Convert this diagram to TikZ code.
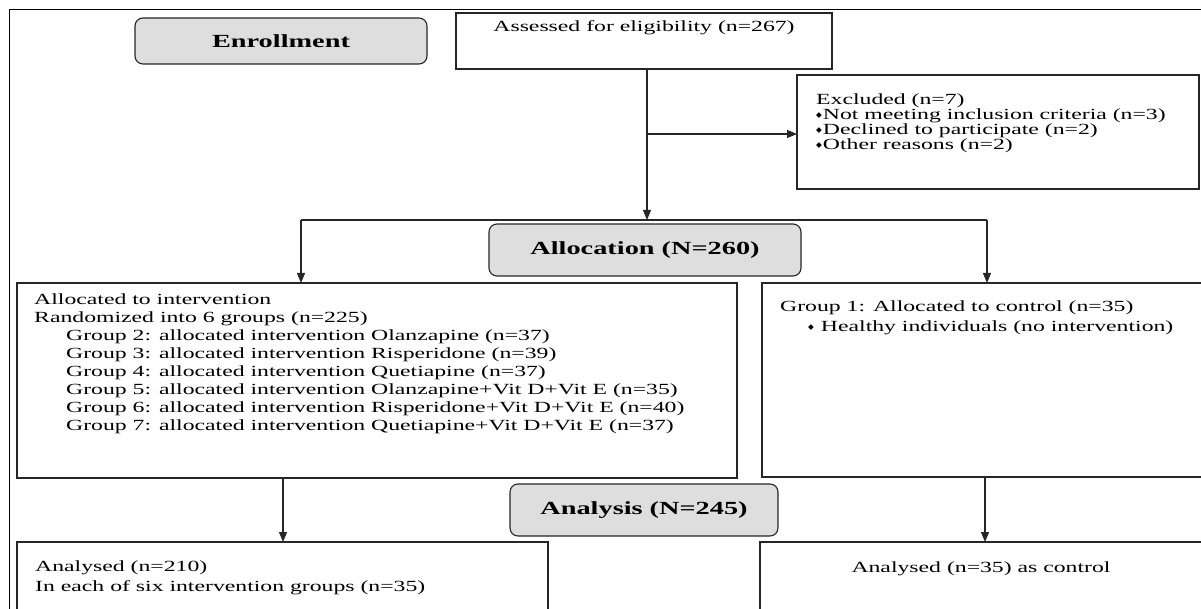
\documentclass[tikz,border=0pt]{standalone}
\usepackage{fontspec}
\setmainfont{Liberation Serif}[FakeStretch=1.53]
\newfontfamily\symbfont{DejaVu Sans}
\usetikzlibrary{arrows.meta, positioning}

\newcommand{\bodyfont}{\fontsize{15.5}{18}\selectfont}
\newcommand{\tightfont}{\fontsize{15.5}{15}\selectfont}
\newcommand{\loosefont}{\fontsize{15.5}{20}\selectfont}
\newcommand{\headfont}{\fontsize{18.5}{22}\selectfont\bfseries}
\newcommand{\exbullet}{{\symbfont\fontsize{7.5}{7.5}\selectfont\raisebox{2.2pt}{◆}}}

\begin{document}
\begin{tikzpicture}[
        x=1pt, y=-1pt,
        base/.style = {draw=black!85, line width=1.1pt},
        box/.style = {base, inner sep=0pt, outer sep=0pt, anchor=north west},
        head/.style = {box, rounded corners=8pt, fill=black!13, font=\headfont},
        txt/.style = {inner sep=0pt, align=left, font=\bodyfont},
        arr/.style = {base, -{Triangle[length=10pt, width=8pt]}},
        ]
    \clip (0,0) rectangle (1201,609);
    % frame
    \draw[line width=1pt] (9,609) |- (1201,10);

    % enrollment
    \node[head, minimum width=292pt, minimum height=46pt] (enrol) at (135,18) {Enrollment};
    \node[box, minimum width=376pt, minimum height=56pt] (assess) at (456,13) {};
    \node[txt, anchor=base] (assess-t) at ([shift={(0,19)}]assess.north)
        {Assessed for eligibility (n=267)};
    \node[box, minimum width=402pt, minimum height=114pt] (excl) at (797,75) {};
    \node[txt, anchor=north west, font=\tightfont] (excl-t) at ([shift={(19,19)}]excl.north west)
        {Excluded (n=7)\\
         \exbullet\hspace{1pt}Not meeting inclusion criteria (n=3)\\
         \exbullet\hspace{1pt}Declined to participate (n=2)\\
         \exbullet\hspace{1pt}Other reasons (n=2)};

    % allocation
    \node[head, minimum width=312pt, minimum height=52pt] (alloc) at (489,224) {Allocation (N=260)};
    \node[box, minimum width=720pt, minimum height=195pt] (intv) at (17,283) {};
    \node[txt, anchor=north west] (intv-t) at ([shift={(17,11)}]intv.north west)
        {Allocated to intervention\\
         Randomized into 6 groups (n=225)\\
         \hspace*{32pt}Group 2: allocated intervention Olanzapine (n=37)\\
         \hspace*{32pt}Group 3: allocated intervention Risperidone (n=39)\\
         \hspace*{32pt}Group 4: allocated intervention Quetiapine (n=37)\\
         \hspace*{32pt}Group 5: allocated intervention Olanzapine+Vit D+Vit E (n=35)\\
         \hspace*{32pt}Group 6: allocated intervention Risperidone+Vit D+Vit E (n=40)\\
         \hspace*{32pt}Group 7: allocated intervention Quetiapine+Vit D+Vit E (n=37)};
    \node[box, minimum width=460pt, minimum height=194pt] (ctrl) at (762,283) {};
    \node[txt, anchor=north west, font=\loosefont] (ctrl-t) at ([shift={(18,18)}]ctrl.north west)
        {Group 1: Allocated to control (n=35)\\
         \hspace*{28pt}\exbullet\hspace{7pt}Healthy individuals (no intervention)};

    % analysis
    \node[head, minimum width=268pt, minimum height=52pt] (anls) at (510,484) {Analysis (N=245)};
    \node[box, minimum width=531pt, minimum height=90pt] (anl1) at (17,542) {};
    \node[txt, anchor=north west, font=\loosefont] (anl1-t) at ([shift={(18,19)}]anl1.north west)
        {Analysed (n=210)\\
         In each of six intervention groups (n=35)};
    \node[box, minimum width=460pt, minimum height=90pt] (anl2) at (760,542) {};
    \node[txt, anchor=base] (anl2-t) at ([shift={(221,30)}]anl2.north west)
        {Analysed (n=35) as control};

    % connectors
    \coordinate (trunk) at (647,220);
    \coordinate (br) at (647,134);
    \coordinate (sl) at (301,220);
    \coordinate (sr) at (987,220);
    \coordinate (dl) at (283,510);
    \coordinate (dr) at (985,510);
    \draw[arr] (assess.south -| trunk) -- (trunk);
    \draw[arr] (br) -- (br -| excl.west);
    \draw[base] (sl) -- (sr);
    \draw[arr] (sl) -- (sl |- intv.north);
    \draw[arr] (sr) -- (sr |- ctrl.north);
    \draw[arr] (dl |- intv.south) -- (dl |- anl1.north);
    \draw[arr] (dr |- ctrl.south) -- (dr |- anl2.north);
\end{tikzpicture}
\end{document}
